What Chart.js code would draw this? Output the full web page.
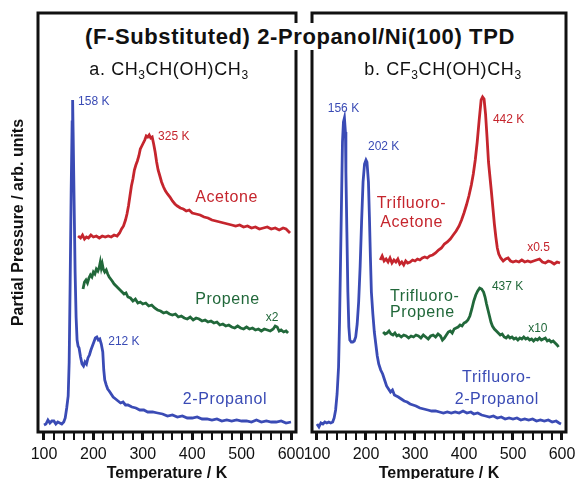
<!DOCTYPE html>
<html>
<head>
<meta charset="utf-8">
<script src="https://cdn.jsdelivr.net/npm/chart.js@4.4.0/dist/chart.umd.min.js"></script>
<style>
  html, body { margin: 0; padding: 0; background: #fff; overflow: hidden; }
  #wrap { position: relative; width: 577px; height: 479px; overflow: hidden; }
  canvas { position: absolute; top: 0; }
  #leftChart { left: 0; }
  #rightChart { left: 295px; }
  .title {
    position: absolute; top: 23px; left: 300px; transform: translateX(-50%);
    white-space: nowrap; background: #fff; padding: 0 3px; z-index: 5;
    font: bold 22px "Liberation Sans", Arial, sans-serif; line-height: 27px; color: #111;
    letter-spacing: 0.6px;
  }
  .sub {
    position: absolute; top: 59px; transform: translateX(-50%); white-space: nowrap; z-index: 5;
    font: 18px "Liberation Sans", Arial, sans-serif; color: #111; letter-spacing: 0.6px;
  }
  .sub sub { font-size: 12px; vertical-align: -4px; }
</style>
</head>
<body>
<div id="wrap">
  <canvas id="leftChart" width="310" height="490"></canvas>
  <canvas id="rightChart" width="282" height="490"></canvas>
  <div class="title">(F-Substituted) 2-Propanol/Ni(100) TPD</div>
  <div class="sub" style="left:169px">a. CH<sub>3</sub>CH(OH)CH<sub>3</sub></div>
  <div class="sub" style="left:443px">b. CF<sub>3</sub>CH(OH)CH<sub>3</sub></div>
</div>
<script>
// tick labels on the temperature axes
const tempLabels = [100, 200, 300, 400, 500, 600];

// ---- panel a: CH3CH(OH)CH3 ----
const propanolTemp = [100,104,108,112,116,120,124,128,132,136,140,143,146,149,151,153,155,157,158,159,161,163,165,167,169,171,174,177,180,183,186,189,192,195,198,201,204,207,210,213,216,219,221,223,226,229,232,236,240,245,250,255,260,265,270,278,286,294,302,310,320,330,340,350,360,370,380,390,400,410,420,430,440,450,460,470,480,490,500,510,520,530,540,550,560,570,580,590,600];
const propanolSignal = [7,8,12,9,11,11,8,10,9,8,10,14,24,36,70,150,240,310,332,300,230,160,115,92,86,84,75,68,66,70,68,74,77,82,86,90,94,95,92,93,88,80,62,52,47,43,41,38,35,33,31,29,30,27,27,25,24,22,22,20,20,19,18,16,17,15,16,14,14,15,13,13,12,13,11,12,11,12,11,11,10,12,10,11,10,10,11,9,10];

const acetoneTemp = [169,174,178,182,186,190,195,200,206,212,218,224,230,236,242,248,253,257,261,265,268,271,274,277,280,283,286,289,292,295,298,301,304,307,310,313,316,319,322,325,328,331,334,338,342,346,350,355,360,365,370,376,382,388,394,400,408,416,424,432,440,448,456,464,472,480,488,496,504,512,520,528,536,544,552,560,568,576,584,590,594,598];
const acetoneSignal = [196,194,197,193,195,194,197,195,196,194,196,195,196,195,197,196,199,203,206,212,218,226,236,246,253,262,267,271,276,283,286,289,292,296,295,297,294,295,288,280,270,262,257,250,245,241,238,235,231,228,226,224,223,221,222,219,218,217,215,214,212,211,210,209,208,207,206,207,205,206,204,205,203,204,205,203,204,202,204,203,201,199];

const propeneTemp = [179,182,185,188,191,194,197,200,203,206,209,212,214,216,218,220,223,226,229,232,235,238,242,246,250,254,258,262,266,270,275,280,285,290,295,300,306,312,318,324,330,336,342,348,354,360,366,372,378,384,390,396,402,408,414,420,426,432,438,444,450,456,462,468,474,480,486,492,498,504,510,516,522,528,534,540,546,552,558,564,568,572,576,580,585,590,594];
const propeneSignal = [143,150,152,149,154,157,155,160,158,163,161,165,170,164,168,163,160,162,158,155,153,151,148,146,144,142,140,138,139,135,134,131,133,129,130,128,129,126,127,124,122,121,119,120,118,117,118,115,116,114,113,115,112,114,113,111,112,110,111,109,110,107,108,106,107,105,104,106,104,103,105,103,104,102,103,101,103,102,101,103,106,105,101,102,100,101,99];

// ---- panel b: CF3CH(OH)CH3 ----
const tfPropanolTemp = [100,104,108,112,116,120,124,128,132,135,138,141,144,146,148,150,152,154,156,158,159,161,163,165,167,170,173,176,179,182,185,188,191,194,197,200,202,205,207,209,211,214,217,220,223,226,230,234,238,242,246,250,254,258,262,266,272,278,284,290,296,302,310,318,326,334,342,350,358,366,374,382,390,398,406,414,420,428,436,444,452,460,468,476,484,492,500,508,516,524,532,540,548,556,564,572,580,588,594,598];
const tfPropanolSignal = [8,5,9,8,10,9,10,9,10,14,22,38,65,110,170,230,290,310,314,300,260,200,140,105,92,90,90,91,95,108,130,165,210,250,268,272,270,250,215,175,140,118,100,88,76,68,62,58,52,46,43,40,42,37,36,35,33,31,30,28,27,26,24,23,22,21,21,20,19,20,19,20,19,21,19,20,18,19,17,16,15,16,14,15,13,14,13,14,12,13,12,13,11,12,11,12,10,11,9,8];

const tfAcetoneTemp = [229,233,237,241,245,249,253,257,261,265,269,273,277,281,285,290,295,300,305,310,315,320,325,330,336,342,348,354,360,366,372,378,384,390,395,400,405,410,415,419,423,427,431,435,438,441,444,447,450,453,456,459,462,465,468,471,475,480,485,490,495,500,506,512,518,524,530,536,542,548,554,560,566,572,578,584,590,596];
const tfAcetoneSignal = [172,176,171,173,170,174,169,172,170,173,168,170,167,171,169,170,172,171,173,172,174,175,174,176,177,179,182,184,188,190,193,197,201,206,212,219,227,236,247,258,272,290,312,332,335,333,318,295,270,255,240,224,208,195,184,178,174,171,173,174,171,170,171,170,172,170,171,170,171,172,173,170,169,171,170,168,170,169];

const tfPropeneTemp = [235,239,243,247,251,255,259,263,267,272,277,282,287,292,297,302,307,312,317,322,327,332,337,342,347,352,356,360,364,368,372,376,380,384,388,392,396,400,404,408,412,416,420,424,428,432,436,440,443,446,449,452,455,458,462,466,470,474,478,482,486,490,494,498,502,506,510,514,518,522,526,530,534,538,542,546,550,554,558,562,566,570,574,578,582,586,590,593];
const tfPropeneSignal = [100,98,99,101,98,97,99,96,97,95,97,96,94,96,95,97,96,94,97,95,93,96,97,95,98,96,92,94,97,100,101,99,103,104,105,107,106,109,110,112,116,123,131,137,141,144,143,140,135,128,122,116,110,106,103,101,99,97,98,95,94,96,94,95,93,94,92,94,93,95,93,94,92,93,91,93,92,94,92,93,94,91,92,90,91,89,87,85];

const BLUE = '#3a4bb5';
const RED = '#c5252d';
const GREEN = '#21683a';
const FONT = '"Liberation Sans", Arial, sans-serif';

function pairs(xs, ys) {
    return xs.map((x, i) => ({ x: x, y: ys[i] }));
}

function line(label, xs, ys, color) {
    return { label: label, data: pairs(xs, ys), borderColor: color, borderWidth: 2.8, pointRadius: 0, tension: 0, fill: false };
}

// frame round the plot area
const boxPlugin = {
    id: 'box',
    afterDraw(chart) {
        const { ctx, chartArea: a } = chart;
        ctx.save();
        ctx.strokeStyle = '#111';
        ctx.lineWidth = 3;
        ctx.strokeRect(a.left, a.top, a.right - a.left, a.bottom - a.top);
        ctx.restore();
    }
};

// text labels placed in data coordinates
const notesPlugin = {
    id: 'notes',
    afterDatasetsDraw(chart, args, opts) {
        const { ctx, scales } = chart;
        ctx.save();
        ctx.textBaseline = 'middle';
        (opts.items || []).forEach(n => {
            ctx.font = n.size + 'px ' + FONT;
            ctx.fillStyle = n.color;
            ctx.textAlign = n.align || 'left';
            if ('letterSpacing' in ctx) ctx.letterSpacing = n.size > 13 ? '0.6px' : '0px';
            ctx.fillText(n.text, scales.x.getPixelForValue(n.x), scales.y.getPixelForValue(n.y));
        });
        ctx.restore();
    }
};

const leftNotes = [
    { text: '158 K', x: 169, y: 330, color: BLUE, size: 12 },
    { text: '325 K', x: 331, y: 295, color: RED, size: 12 },
    { text: 'Acetone', x: 406, y: 234, color: RED, size: 16 },
    { text: 'Propene', x: 406, y: 132, color: GREEN, size: 16 },
    { text: 'x2', x: 549, y: 114, color: GREEN, size: 12 },
    { text: '212 K', x: 230, y: 90, color: BLUE, size: 12 },
    { text: '2-Propanol', x: 381, y: 32, color: BLUE, size: 16 }
];

const rightNotes = [
    { text: '156 K', x: 122, y: 323, color: BLUE, size: 12 },
    { text: '202 K', x: 204, y: 285, color: BLUE, size: 12 },
    { text: '442 K', x: 459, y: 312, color: RED, size: 12 },
    { text: 'Trifluoro-', x: 222, y: 228, color: RED, size: 16 },
    { text: 'Acetone', x: 229, y: 209, color: RED, size: 16 },
    { text: 'x0.5', x: 529, y: 184, color: RED, size: 12 },
    { text: 'Trifluoro-', x: 249, y: 135, color: GREEN, size: 16 },
    { text: 'Propene', x: 249, y: 119, color: GREEN, size: 16 },
    { text: '437 K', x: 457, y: 145, color: GREEN, size: 12 },
    { text: 'x10', x: 531, y: 103, color: GREEN, size: 12 },
    { text: 'Trifluoro-', x: 467, y: 54, color: BLUE, size: 16, align: 'center' },
    { text: '2-Propanol', x: 467, y: 32, color: BLUE, size: 16, align: 'center' }
];

function makePanel(id, datasets, notes, xMin, xMax, padLeft, padRight, showYTitle) {
    return new Chart(document.getElementById(id), {
        type: 'line',
        data: { datasets: datasets },
        plugins: [boxPlugin, notesPlugin],
        options: {
            responsive: false,
            animation: false,
            layout: { padding: { top: 13, bottom: 0, left: padLeft, right: padRight } },
            plugins: {
                legend: { display: false },
                tooltip: { enabled: false },
                notes: { items: notes }
            },
            scales: {
                x: {
                    type: 'linear',
                    min: xMin,
                    max: xMax,
                    border: { display: false },
                    grid: {
                        drawOnChartArea: false,
                        drawTicks: true,
                        tickLength: 8,
                        color: '#111',
                        lineWidth: c => (c.tick && c.tick.value % 100 === 0) ? 3 : 2
                    },
                    ticks: {
                        stepSize: 20,
                        autoSkip: false,
                        includeBounds: false,
                        maxRotation: 0,
                        padding: 5,
                        color: '#111',
                        font: { family: FONT, size: 16 },
                        callback: v => tempLabels.includes(v) ? String(v) : ''
                    },
                    title: {
                        display: true,
                        text: 'Temperature / K',
                        color: '#111',
                        font: { family: FONT, size: 16, weight: 'bold' },
                        padding: { top: 0, bottom: 7 }
                    },
                    afterFit: s => { s.height = 58; s.paddingLeft = 0; s.paddingRight = 0; }
                },
                y: {
                    min: 0,
                    max: 419,
                    display: showYTitle,
                    border: { display: false },
                    grid: { display: false },
                    ticks: { display: false },
                    title: {
                        display: true,
                        text: 'Partial Pressure / arb. units',
                        color: '#111',
                        font: { family: FONT, size: 16, weight: 'bold' },
                        padding: { top: 9, bottom: 0 }
                    },
                    afterFit: s => { if (showYTitle) s.width = 38; }
                }
            }
        }
    });
}

makePanel('leftChart', [
    line('Acetone', acetoneTemp, acetoneSignal, RED),
    line('Propene x2', propeneTemp, propeneSignal, GREEN),
    line('2-Propanol', propanolTemp, propanolSignal, BLUE)
], leftNotes, 87.9, 610.1, 0, 14, true);

makePanel('rightChart', [
    line('Trifluoro-Acetone x0.5', tfAcetoneTemp, tfAcetoneSignal, RED),
    line('Trifluoro-Propene x10', tfPropeneTemp, tfPropeneSignal, GREEN),
    line('Trifluoro-2-Propanol', tfPropanolTemp, tfPropanolSignal, BLUE)
], rightNotes, 89.8, 608.2, 17, 11, false);
</script>
</body>
</html>
